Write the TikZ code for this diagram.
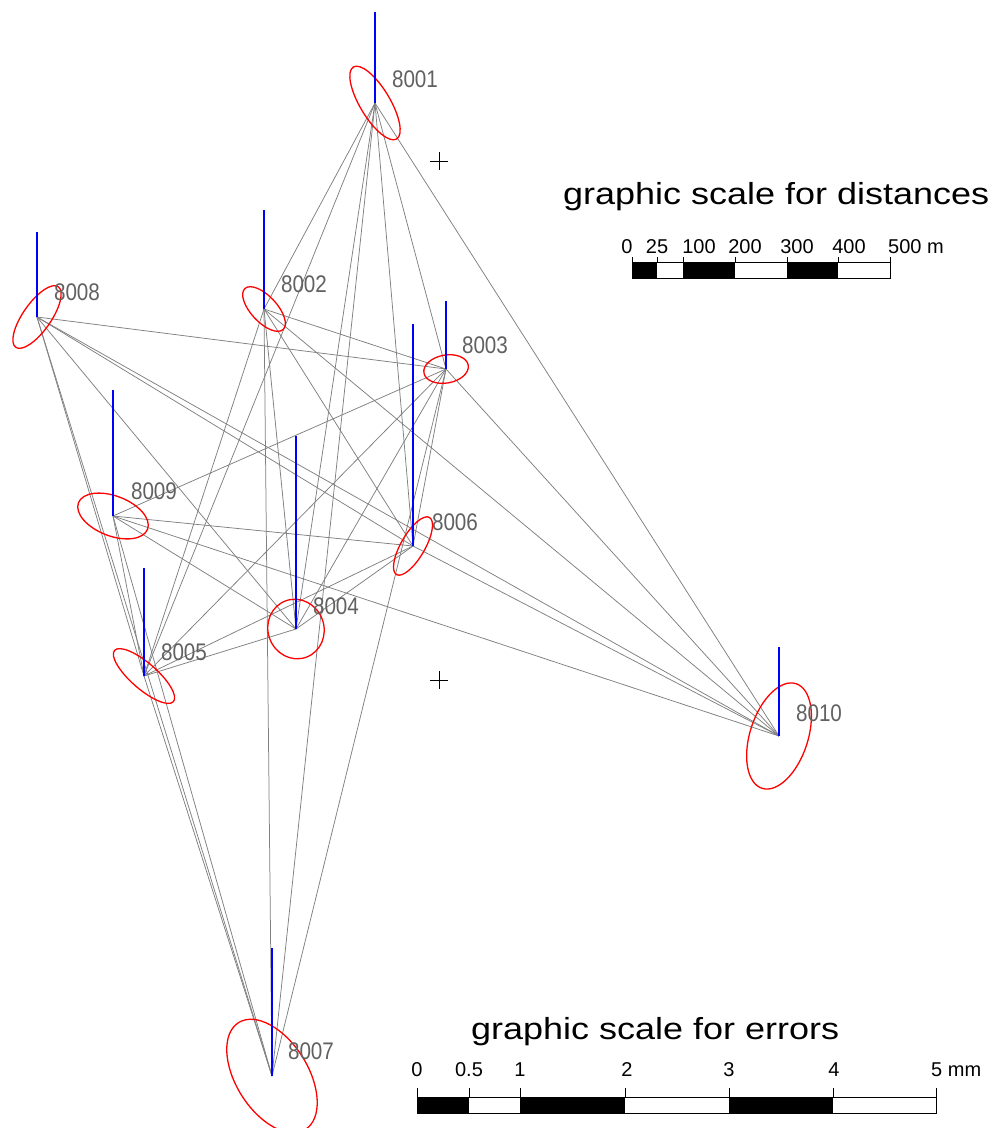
\documentclass[tikz,border=0pt]{standalone}
\usepackage{graphicx}
\usepackage{fontspec}
\setmainfont{Liberation Sans}
\begin{document}
\begin{tikzpicture}[x=1pt,y=-1pt,
  link/.style={draw=black!50, line width=0.75pt},
  errell/.style={draw=red, line width=1.3pt},
  vbar/.style={draw=blue, line width=1.8pt},
  stlabel/.style={text=black!62, inner sep=0pt, font=\fontsize{24}{24}\selectfont},
  title/.style={anchor=base west, inner sep=0pt, font=\fontsize{30.5}{30.5}\selectfont},
  scalelbl/.style={anchor=base, inner sep=0pt, font=\fontsize{20}{20}\selectfont},
  scaletick/.style={draw=black, line width=0.9pt},
  cross/.style={draw=black, line width=0.9pt}]
\useasboundingbox (0,0) rectangle (1001,1128);
\fill[white] (0,0) rectangle (1001,1128);

% station positions
\coordinate (s1) at (375,103);
\coordinate (s2) at (264,309);
\coordinate (s3) at (446,369);
\coordinate (s4) at (296,629);
\coordinate (s5) at (144,676);
\coordinate (s6) at (413,546);
\coordinate (s7) at (272,1076);
\coordinate (s8) at (37,317);
\coordinate (s9) at (113,516);
\coordinate (s10) at (779,736);

% observed directions
\foreach \a/\b in {1/2,1/3,1/4,1/5,1/6,1/7,1/10,
                   2/3,2/4,2/5,2/6,2/7,2/10,
                   3/4,3/5,3/6,3/7,3/8,3/9,3/10,
                   4/5,4/6,4/8,4/9,
                   5/6,5/7,5/8,5/9,
                   6/8,6/9,6/10,
                   7/8,7/9,
                   8/10,9/10}
  \draw[link] (s\a) -- (s\b);

% error ellipses
\draw[errell, rotate around={-59:(s1)}] (s1) ellipse [x radius=42, y radius=15];
\draw[errell, rotate around={-47:(s2)}] (s2) ellipse [x radius=28, y radius=13];
\draw[errell, rotate around={10:(s3)}] (s3) ellipse [x radius=22.5, y radius=14];
\draw[errell, rotate around={-70:(s4)}] (s4) ellipse [x radius=30, y radius=28];
\draw[errell, rotate around={-41:(s5)}] (s5) ellipse [x radius=39, y radius=13];
\draw[errell, rotate around={60:(s6)}] (s6) ellipse [x radius=33, y radius=12];
\draw[errell, rotate around={-58:(s7)}] (s7) ellipse [x radius=63, y radius=36];
\draw[errell, rotate around={55:(s8)}] (s8) ellipse [x radius=37, y radius=14];
\draw[errell, rotate around={-21:(s9)}] (s9) ellipse [x radius=37, y radius=20];
\draw[errell, rotate around={72:(s10)}] (s10) ellipse [x radius=55, y radius=29];

% height error bars
\draw[vbar] (s1) -- ++(0,-91);
\draw[vbar] (s2) -- ++(0,-99);
\draw[vbar] (s3) -- ++(0,-68);
\draw[vbar] (s4) -- ++(0,-193);
\draw[vbar] (s5) -- ++(0,-108);
\draw[vbar] (s6) -- ++(0,-222);
\draw[vbar] (s7) -- ++(0,-128);
\draw[vbar] (s8) -- ++(0,-85);
\draw[vbar] (s9) -- ++(0,-126);
\draw[vbar] (s10) -- ++(0,-89);

% station names
\node[stlabel] (l1) at (415,79) {\scalebox{0.86}[1]{8001}};
\node[stlabel] (l2) at (304,284) {\scalebox{0.86}[1]{8002}};
\node[stlabel] (l3) at (485,345) {\scalebox{0.86}[1]{8003}};
\node[stlabel] (l4) at (336,606) {\scalebox{0.86}[1]{8004}};
\node[stlabel] (l5) at (184,652) {\scalebox{0.86}[1]{8005}};
\node[stlabel] (l6) at (455,522) {\scalebox{0.86}[1]{8006}};
\node[stlabel] (l7) at (311,1051) {\scalebox{0.86}[1]{8007}};
\node[stlabel] (l8) at (77,292) {\scalebox{0.86}[1]{8008}};
\node[stlabel] (l9) at (154,491) {\scalebox{0.86}[1]{8009}};
\node[stlabel] (l10) at (819,713) {\scalebox{0.86}[1]{8010}};

% reference crosses
\draw[cross] (430,161) -- (448,161) (439,152) -- (439,170);
\draw[cross] (430,680) -- (448,680) (439,671) -- (439,689);

% graphic scale for distances
\node[title] (tdist) at (563,204) {\scalebox{1.18}[1]{graphic scale for distances}};
\fill[black] (632,262) rectangle (657,278);
\fill[black] (683,262) rectangle (735,278);
\fill[black] (787,262) rectangle (838,278);
\draw[scaletick] (632,262) rectangle (890,278);
\foreach \x in {632,657,683,735,787,838,890}
  \draw[scaletick] (\x,257) -- (\x,262);
\foreach \x/\t in {627/0,657/25,699/100,745/200,797/300,849/400}
  \node[scalelbl] at (\x,253) {\t};
\node[scalelbl, anchor=base west] at (888,253) {500 m};

% graphic scale for errors
\node[title] (terr) at (471,1039) {\scalebox{1.18}[1]{graphic scale for errors}};
\fill[black] (417,1097) rectangle (469,1113);
\fill[black] (520,1097) rectangle (625,1113);
\fill[black] (729,1097) rectangle (833,1113);
\draw[scaletick] (417,1097) rectangle (936,1113);
\foreach \x in {417,469,520,625,729,833,936}
  \draw[scaletick] (\x,1088) -- (\x,1097);
\foreach \x/\t in {417/0,469/0.5,520/1,627/2,729/3,834/4}
  \node[scalelbl] at (\x,1076) {\t};
\node[scalelbl, anchor=base west] at (931,1076) {5 mm};
\end{tikzpicture}
\end{document}
